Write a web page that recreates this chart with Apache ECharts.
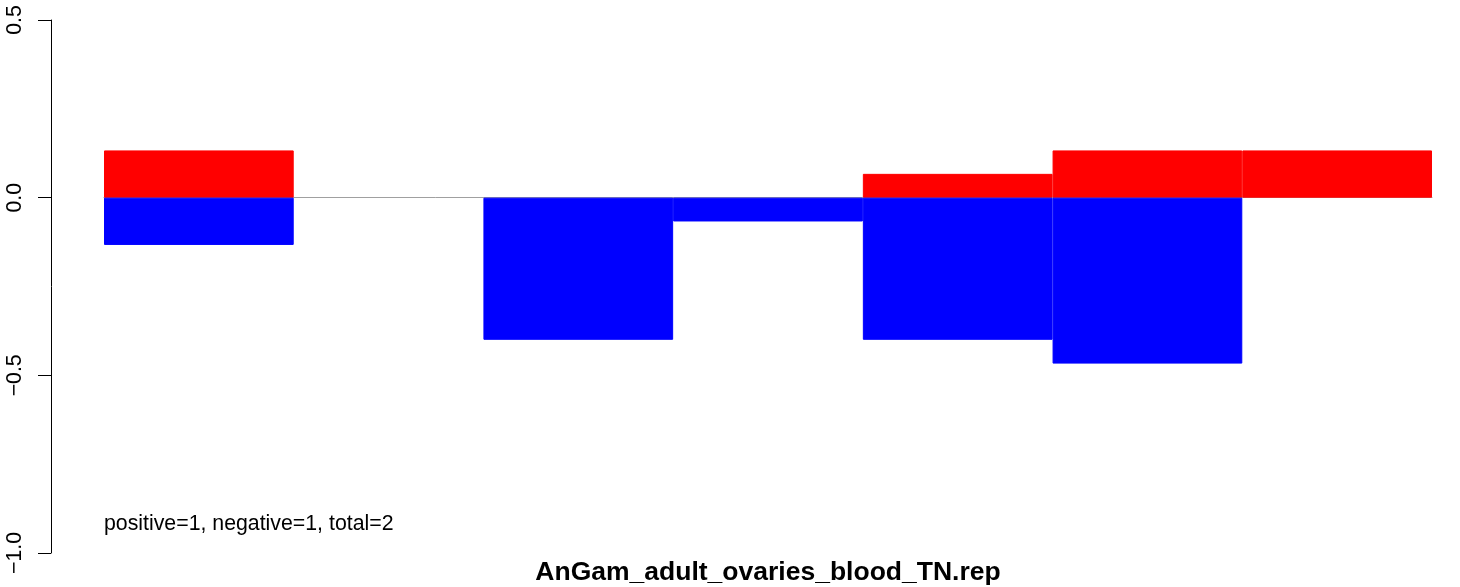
<!DOCTYPE html>
<html>
<head>
<meta charset="utf-8">
<script src="https://cdn.jsdelivr.net/npm/echarts@6/dist/echarts.min.js"></script>
<style>
html,body{margin:0;padding:0;background:#fff;}
#chart{width:1460px;height:587px;}
</style>
</head>
<body>
<div id="chart"></div>
<script>
var categories = ['1', '2', '3', '4', '5', '6', '7'];
var positiveValues = [0.133, 0, 0, 0, 0.067, 0.133, 0.133];
var negativeValues = [-0.133, 0, -0.4, -0.067, -0.4, -0.467, 0];
var yTicks = [-1.0, -0.5, 0.0, 0.5];
var titleText = 'AnGam_adult_ovaries_blood_TN.rep';
var noteText = 'positive=1, negative=1, total=2';

function nonZero(arr) {
  return arr.map(function (v) { return v === 0 ? '-' : v; });
}

var chart = echarts.init(document.getElementById('chart'), null, {renderer: 'canvas'});
var font = 'Liberation Sans, Arial, Helvetica, sans-serif';
chart.setOption({
  animation: false,
  backgroundColor: '#ffffff',
  title: {
    text: titleText,
    left: 763,
    textAlign: 'center',
    top: 554,
    textStyle: {fontFamily: font, fontWeight: 'bold', fontSize: 26.5, color: '#000'}
  },
  graphic: [{
    type: 'text',
    left: 104,
    top: 514,
    style: {text: noteText, fontFamily: font, fontSize: 21.3, fill: '#000'}
  }],
  grid: {left: 104, right: 28, top: 20, bottom: 34, containLabel: false},
  xAxis: {
    type: 'category',
    data: categories,
    boundaryGap: true,
    axisLine: {show: true, onZero: true, lineStyle: {color: '#a0a0a0', width: 1}},
    axisTick: {show: false},
    axisLabel: {show: false},
    splitLine: {show: false}
  },
  yAxis: {
    type: 'value',
    min: yTicks[0],
    max: yTicks[yTicks.length - 1],
    interval: 0.5,
    offset: 53,
    axisLine: {show: true, lineStyle: {color: '#000', width: 1}},
    axisTick: {show: true, length: 13, lineStyle: {color: '#000', width: 1}},
    splitLine: {show: false},
    axisLabel: {
      rotate: 90,
      margin: 25,
      fontFamily: font,
      fontSize: 21.3,
      color: '#000',
      formatter: function (v) { return v.toFixed(1).replace('-', '\u2212'); }
    }
  },
  series: [
    {
      type: 'bar',
      data: nonZero(positiveValues),
      barWidth: '100%',
      barGap: '-100%',
      itemStyle: {color: '#ff0000', borderColor: '#ff0000', borderWidth: 1}
    },
    {
      type: 'bar',
      data: nonZero(negativeValues),
      barWidth: '100%',
      barGap: '-100%',
      itemStyle: {color: '#0000ff', borderColor: '#0000ff', borderWidth: 1}
    }
  ]
});
</script>
</body>
</html>
